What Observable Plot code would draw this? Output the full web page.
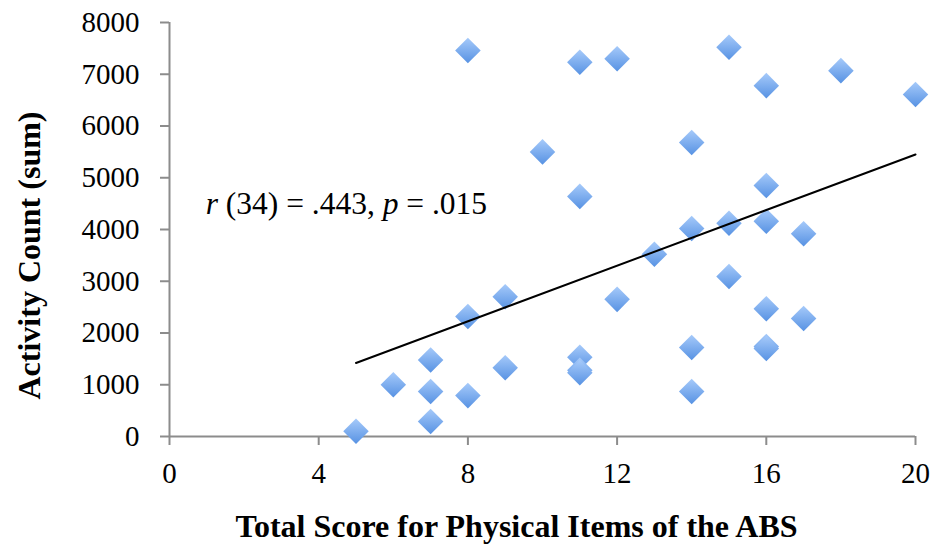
<!DOCTYPE html>
<html>
<head>
<meta charset="utf-8">
<script src="https://cdn.jsdelivr.net/npm/d3@7"></script>
<script src="https://cdn.jsdelivr.net/npm/@observablehq/plot@0.6"></script>
<style>
  html, body { margin: 0; padding: 0; background: #fff; }
  #chart svg { display: block; }
</style>
</head>
<body>
<div id="chart"></div>
<script>
// Total Score for Physical Items of the ABS
const scores = [5, 6, 7, 7, 7, 8, 8, 8, 9, 9, 10, 11, 11, 11, 11, 11, 12, 12, 13, 14, 14, 14, 14, 15, 15, 15, 16, 16, 16, 16, 16, 16, 17, 17, 18, 20];
// Activity Count (sum)
const counts = [100, 1000, 1480, 870, 290, 7460, 2320, 790, 2700, 1330, 5500, 7230, 4640, 1530, 1280, 1230, 7300, 2650, 3520, 5680, 4020, 1720, 870, 7520, 4120, 3090, 6780, 4850, 4160, 2470, 1740, 1700, 3920, 2280, 7070, 6610];
// Trend line endpoints
const trendX = [5, 20];
const trendY = [1420, 5450];
const xTicks = [0, 4, 8, 12, 16, 20];
const yTicks = [0, 1000, 2000, 3000, 4000, 5000, 6000, 7000, 8000];
const annotation = {x: 0.97, y: 4500, text: "r (34) = .443, p = .015"};
const xTitle = "Total Score for Physical Items of the ABS";
const yTitle = "Activity Count (sum)";

const points = scores.map((x, i) => ({x, y: counts[i]}));
const trend = trendX.map((x, i) => ({x, y: trendY[i]}));

const axisGray = "#8c8c8c";
const font = "'Liberation Serif', 'Times New Roman', serif";

const chart = Plot.plot({
  width: 933,
  height: 548,
  marginLeft: 169,
  marginRight: 18,
  marginTop: 22,
  marginBottom: 112,
  style: {fontFamily: font, fontSize: "29px", color: "black", background: "white"},
  x: {domain: [0, 20]},
  y: {domain: [0, 8000]},
  marks: [
    Plot.axisX({ticks: xTicks, tickSize: 9, tickPadding: 17, stroke: axisGray, strokeWidth: 2, fill: "black", fontSize: 29, label: null, tickFormat: d => String(d)}),
    Plot.axisY({ticks: yTicks, tickSize: 9, tickPadding: 21, stroke: axisGray, strokeWidth: 2, fill: "black", fontSize: 29, label: null, tickFormat: d => String(d)}),
    Plot.ruleY([0], {stroke: axisGray, strokeWidth: 2}),
    Plot.ruleX([0], {stroke: axisGray, strokeWidth: 2}),
    Plot.dot(points, {x: "x", y: "y", symbol: "diamond2", r: 11.5, fill: "url(#diamondGrad)", stroke: "none", ariaLabel: "points"}),
    Plot.line(trend, {x: "x", y: "y", stroke: "black", strokeWidth: 2}),
    Plot.text([annotation], {x: "x", y: "y", text: "text", textAnchor: "start", lineAnchor: "middle", fontSize: 31.5, ariaLabel: "annotation"}),
    Plot.text([xTitle], {frameAnchor: "bottom", textAnchor: "middle", dy: 90, dx: -26, lineAnchor: "middle", fontSize: 32, fontWeight: "bold"}),
    Plot.text([yTitle], {frameAnchor: "left", textAnchor: "middle", rotate: -90, dx: -140, dy: 26, lineAnchor: "middle", fontSize: 32, fontWeight: "bold"})
  ]
});

const svg = d3.select(chart);
const defs = svg.insert("defs", ":first-child");
const grad = defs.append("linearGradient").attr("id", "diamondGrad")
  .attr("x1", 0).attr("y1", 0).attr("x2", 0).attr("y2", 1);
grad.append("stop").attr("offset", "0%").attr("stop-color", "#a6cafa");
grad.append("stop").attr("offset", "100%").attr("stop-color", "#5792e3");
const filt = defs.append("filter").attr("id", "diamondShadow")
  .attr("x", "-50%").attr("y", "-50%").attr("width", "200%").attr("height", "200%");
filt.append("feDropShadow").attr("dx", 1.5).attr("dy", 2.5).attr("stdDeviation", 1.6)
  .attr("flood-color", "#000").attr("flood-opacity", 0.35);
svg.select('[aria-label="points"]').attr("filter", "url(#diamondShadow)");

// italicise r and p in the annotation
svg.selectAll("text").filter(function() { return this.textContent === annotation.text; }).each(function() {
  const t = d3.select(this);
  const parts = [["r", true], [" (34) = .443, ", false], ["p", true], [" = .015", false]];
  t.text(null);
  parts.forEach(([s, it]) => {
    const ts = t.append("tspan").text(s);
    if (it) ts.style("font-style", "italic");
  });
});

document.getElementById("chart").append(chart);
</script>
</body>
</html>
